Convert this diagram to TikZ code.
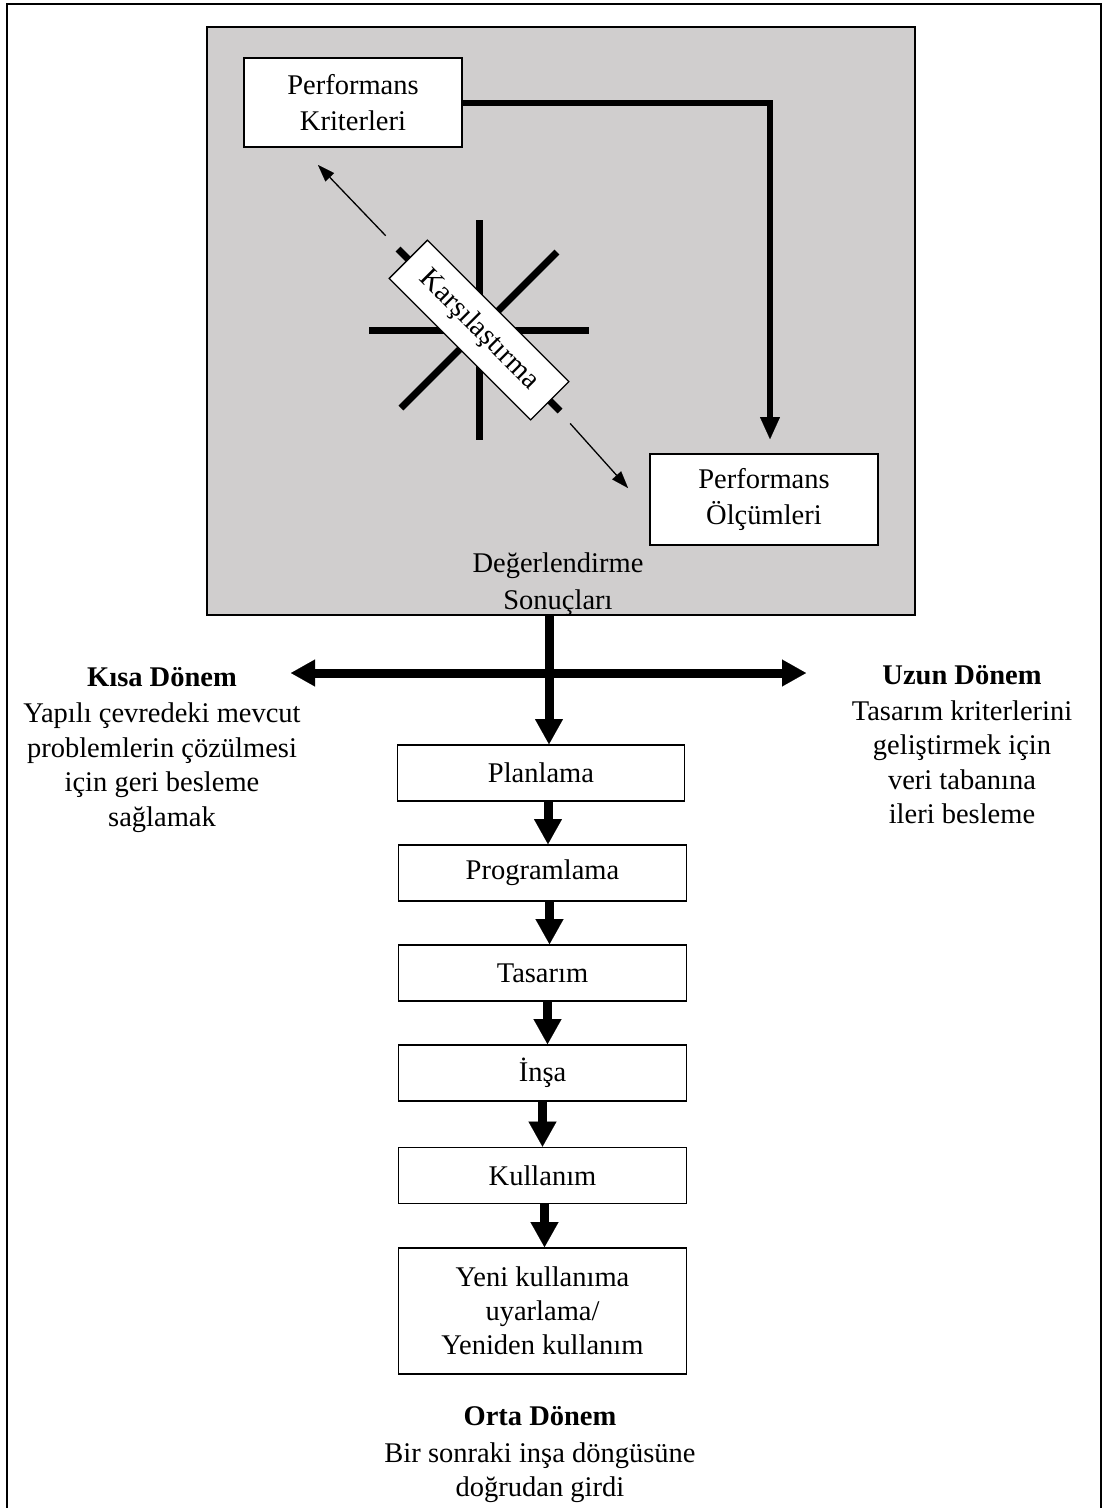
\documentclass[tikz,border=0pt]{standalone}
\usepackage{fontspec}
\setmainfont{Liberation Serif}
\usetikzlibrary{arrows.meta}
\definecolor{panelgray}{RGB}{208,206,206}
\begin{document}
\begin{tikzpicture}[x=1pt,y=-1pt,
  lbl/.style={font=\fontsize{28.5}{34.5}\selectfont, align=center, inner sep=0pt},
  pbox/.style={draw, line width=1.8pt, fill=white, font=\fontsize{28.5}{36}\selectfont, align=center, inner sep=0pt},
  stepbox/.style={pbox, minimum width=288pt, minimum height=56pt},
  spoke/.style={line width=7pt},
  bigarrow/.style={line width=9pt, -{Triangle[width=28pt,length=25pt,line width=0.1pt]}},
  dblarrow/.style={line width=9pt, {Triangle[width=27pt,length=24pt,line width=0.1pt]}-{Triangle[width=27pt,length=24pt,line width=0.1pt]}},
  medarrow/.style={line width=6pt, -{Triangle[width=20pt,length=22pt,line width=0.1pt]}},
  thinarrow/.style={line width=1.3pt, -{Triangle[width=12pt,length=17pt,line width=0.1pt]}},
]
\useasboundingbox (0,0) rectangle (1105,1508);
\fill[white] (0,0) rectangle (1105,1508);
\draw[line width=2pt] (7,1512) -- (7,4) -- (1101,4) -- (1101,1512);

% evaluation panel
\node[draw, line width=1.8pt, fill=panelgray, minimum width=708pt, minimum height=588pt, inner sep=0pt] (panel) at (561,321) {};
\node[pbox, minimum width=218pt, minimum height=89pt] (krit) at (353,102.5) {Performans\\Kriterleri};
\node[pbox, minimum width=228pt, minimum height=91pt] (olc) at (764,499.5) {Performans\\Ölçümleri};
\node[lbl, font=\fontsize{28.5}{37}\selectfont] (deg) at (558,584) {Değerlendirme\\Sonuçları};

% star
\coordinate (c) at (479,330);
\draw[spoke] (479,220) -- (479,440);
\draw[spoke] (369,330) -- (589,330);
\draw[spoke] (401,408) -- (557,252);
\draw[spoke] (398,249) -- (560,411);
\node[pbox, line width=1.3pt, rotate=-45, minimum width=200pt, minimum height=54pt, font=\fontsize{29}{36}\selectfont] (kars) at (c) {Karşılaştırma};
\coordinate (t1e) at (318,165);
\coordinate (t2e) at (628,488);
\draw[thinarrow, shorten <=32pt] (kars.west) -- (t1e);
\draw[thinarrow, shorten <=30pt] (kars.east) -- (t2e);

\draw[medarrow, shorten >=14pt] (krit.east) -| ([xshift=6pt]olc.north);

% process chain
\node[stepbox, minimum width=287pt] (plan) at (541,773) {Planlama};
\node[stepbox] (prog) at (542.5,873) {Programlama};
\node[stepbox] (tas) at (542.5,973) {Tasarım};
\node[stepbox] (insa) at (542.5,1073) {İnşa};
\node[stepbox] (kull) at (542.5,1175.5) {Kullanım};
\node[stepbox, minimum height=126pt, font=\fontsize{28.5}{34}\selectfont] (yeni) at (542.5,1311) {Yeni kullanıma\\uyarlama/\\Yeniden kullanım};

\coordinate (ax) at ([xshift=8pt]plan.north);
\draw[bigarrow] (ax |- panel.south) -- (ax);
\coordinate (hl) at (291,673);
\coordinate (hr) at (806,673);
\draw[dblarrow] (hl) -- (hr);

\draw[bigarrow] ([xshift=7pt]plan.south) -- ([xshift=7pt]plan.south |- prog.north);
\draw[bigarrow] ([xshift=7pt]prog.south) -- ([xshift=7pt]prog.south |- tas.north);
\draw[bigarrow] ([xshift=5pt]tas.south) -- ([xshift=5pt]tas.south |- insa.north);
\draw[bigarrow] ([xshift=0pt]insa.south) -- ([xshift=0pt]insa.south |- kull.north);
\draw[bigarrow] ([xshift=2pt]kull.south) -- ([xshift=2pt]kull.south |- yeni.north);

% outcome texts
\node[lbl] (kisa) at (162,750) {\textbf{Kısa Dönem}\\[2pt]Yapılı çevredeki mevcut\\problemlerin çözülmesi\\için geri besleme\\sağlamak};
\node[lbl] (uzun) at (962,745) {\textbf{Uzun Dönem}\\[1pt]Tasarım kriterlerini\\geliştirmek için\\veri tabanına\\ileri besleme};
\node[lbl] (orta) at (540,1455) {\textbf{Orta Dönem}\\[2pt]Bir sonraki inşa döngüsüne\\doğrudan girdi};
\end{tikzpicture}
\end{document}
